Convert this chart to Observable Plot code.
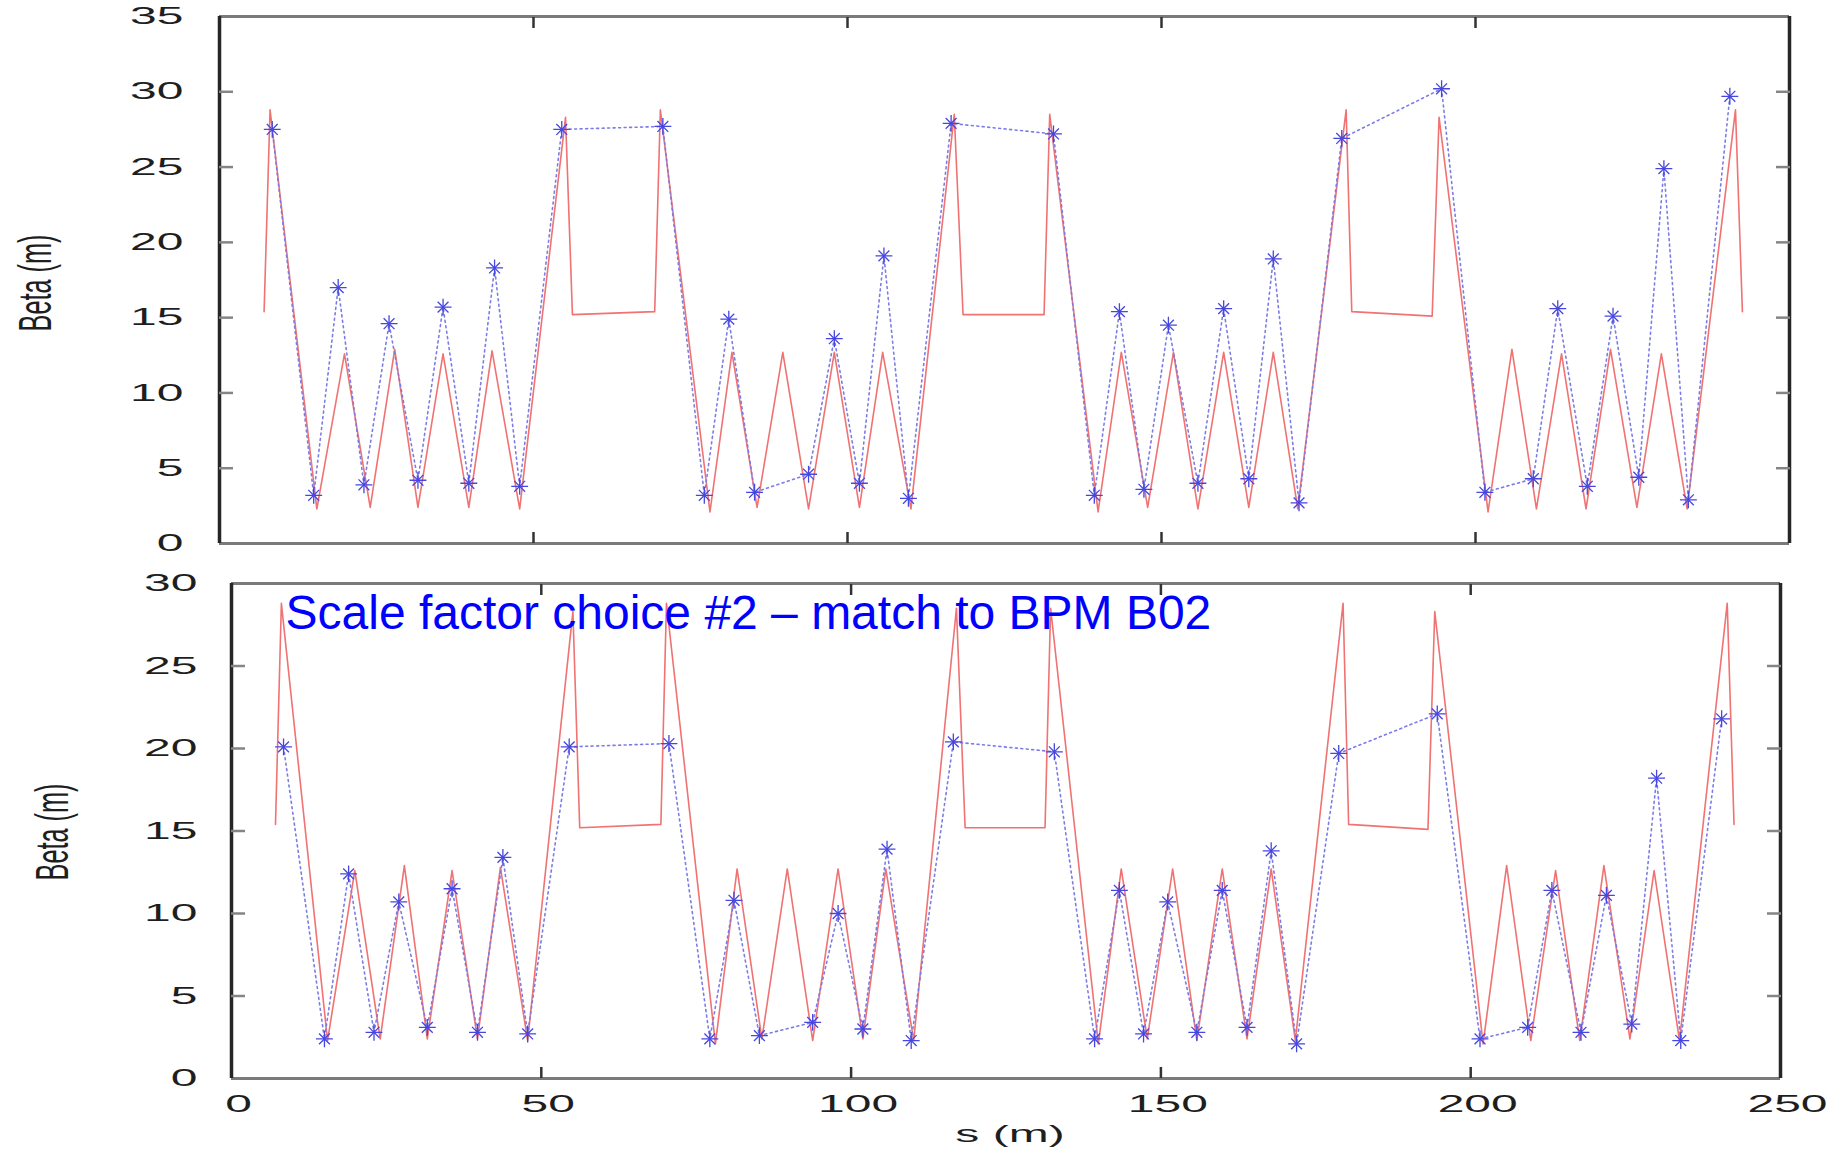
<!DOCTYPE html>
<html><head><meta charset="utf-8">
<script src="https://cdn.jsdelivr.net/npm/d3@7"></script>
<script src="https://cdn.jsdelivr.net/npm/@observablehq/plot@0.6"></script>
<style>
body{margin:0;background:#fff;}
#chart{position:relative;width:1839px;height:1151px;overflow:hidden;background:#fff;}
#chart svg{position:absolute;left:0;}
</style></head><body><div id="chart"></div>
<script>
// Model beta function (red solid line)
const modelS = [7.1, 8.05, 15.5, 19.9, 24.0, 27.9, 31.6, 35.6, 39.7, 43.4, 47.8, 55.1, 56.2, 69.3, 70.2, 78.1, 81.6, 85.6, 89.7, 93.8, 97.9, 101.9, 105.6, 110.1, 117.0, 118.4, 131.3, 132.2, 139.9, 143.6, 147.8, 151.9, 155.8, 159.9, 163.9, 167.8, 171.7, 179.4, 180.3, 193.1, 194.2, 202.0, 205.8, 209.7, 213.7, 217.6, 221.5, 225.7, 229.6, 233.7, 241.4, 242.5];
const modelBeta = [15.4, 28.8, 2.3, 12.6, 2.4, 12.9, 2.4, 12.6, 2.4, 12.8, 2.3, 28.3, 15.2, 15.4, 28.8, 2.1, 12.7, 2.4, 12.7, 2.3, 12.7, 2.4, 12.7, 2.3, 28.5, 15.2, 15.2, 28.5, 2.1, 12.7, 2.4, 12.7, 2.3, 12.7, 2.4, 12.7, 2.3, 28.8, 15.4, 15.1, 28.3, 2.1, 12.9, 2.3, 12.6, 2.3, 12.9, 2.4, 12.6, 2.3, 28.8, 15.4];
// BPM measurements (blue stars, dotted)
const bpmS = [8.4, 15.0, 18.9, 23.0, 27.0, 31.6, 35.6, 39.7, 43.8, 47.8, 54.5, 70.6, 77.2, 81.1, 85.2, 93.8, 97.9, 101.9, 105.8, 109.7, 116.5, 132.8, 139.3, 143.3, 147.2, 151.1, 155.8, 159.9, 163.9, 167.8, 171.9, 178.7, 194.6, 201.5, 209.2, 213.1, 217.8, 221.9, 226.0, 230.0, 233.9, 240.5];
const betaMeasTop = [27.5, 3.2, 17.0, 3.9, 14.6, 4.2, 15.7, 4.0, 18.3, 3.8, 27.5, 27.7, 3.2, 14.9, 3.4, 4.6, 13.6, 4.0, 19.1, 3.0, 27.9, 27.2, 3.2, 15.4, 3.6, 14.5, 4.0, 15.6, 4.3, 18.9, 2.7, 26.9, 30.2, 3.4, 4.3, 15.6, 3.8, 15.1, 4.4, 24.9, 2.9, 29.7];
const betaMeasB02 = [20.1, 2.4, 12.4, 2.8, 10.7, 3.1, 11.5, 2.8, 13.4, 2.7, 20.1, 20.3, 2.4, 10.8, 2.6, 3.4, 10.0, 3.0, 13.9, 2.3, 20.4, 19.8, 2.4, 11.4, 2.7, 10.7, 2.8, 11.4, 3.1, 13.8, 2.1, 19.7, 22.1, 2.4, 3.1, 11.4, 2.8, 11.1, 3.3, 18.2, 2.3, 21.8];
// Ticks and texts
const yTicksTop = [0, 5, 10, 15, 20, 25, 30, 35];
const yTicksBottom = [0, 5, 10, 15, 20, 25, 30];
const xTickLabels = [0, 50, 100, 150, 200, 250];
const xTickMarks = [50, 100, 150, 200];
const xDomain = [0, 250];
const yLabel = "Beta (m)";
const xLabel = "s (m)";
const annotation = "Scale factor choice #2 \u2013 match to BPM B02";

const model = modelS.map((s, i) => ({s, beta: modelBeta[i]}));
const measTop = bpmS.map((s, i) => ({s, beta: betaMeasTop[i]}));
const measB02 = bpmS.map((s, i) => ({s, beta: betaMeasB02[i]}));

const FONT = "Liberation Sans, Arial, Helvetica, sans-serif";
const TXT = "#1e1e1e";

function panel(o) {
  const yMax = o.yTicks[o.yTicks.length - 1];
  const inner = o.yTicks.slice(1, -1);
  const marks = [
    Plot.line(model, {x: "s", y: "beta", stroke: "#f07272", strokeWidth: 1.6}),
    Plot.line(o.meas, {x: "s", y: "beta", stroke: "#7c7ce6", strokeWidth: 1.6, strokeDasharray: "2,3.5"}),
    Plot.dot(o.meas, {x: "s", y: "beta", symbol: "plus", r: 5.5, stroke: "#4646e0", strokeWidth: 1.3}),
    Plot.dot(o.meas, {x: "s", y: "beta", symbol: "times", r: 5, stroke: "#4646e0", strokeWidth: 1.3}),
    // frame
    Plot.ruleY([0, yMax], {stroke: "#7a7a7a", strokeWidth: 3}),
    Plot.ruleX(xDomain, {stroke: "#262626", strokeWidth: 3.5}),
    // inward ticks
    Plot.axisY(inner, {anchor: "left", tickSize: -14, tickFormat: () => "", stroke: "#858585", strokeWidth: 2.5, label: null}),
    Plot.axisY(inner, {anchor: "right", tickSize: -14, tickFormat: () => "", stroke: "#858585", strokeWidth: 2.5, label: null}),
    Plot.axisX(xTickMarks, {anchor: "bottom", tickSize: -11, tickFormat: () => "", stroke: "#333", strokeWidth: 2.5, label: null}),
    Plot.axisX(xTickMarks, {anchor: "top", tickSize: -11, tickFormat: () => "", stroke: "#333", strokeWidth: 2.5, label: null}),
    // y tick labels
    Plot.axisY(o.yTicks, {anchor: "left", tickSize: 0, tickPadding: o.yPad, fontSize: 24, fill: TXT, label: null}),
    // y axis title
    Plot.text([yLabel], {frameAnchor: "left", textAnchor: "middle", dx: o.ylDx, dy: o.ylDy, rotate: -90, fontSize: 46, fill: TXT})
  ];
  if (o.bottomLabels) {
    marks.push(Plot.axisX(xTickLabels, {anchor: "bottom", tickSize: 0, tickPadding: 16, dx: 7, fontSize: 24, fill: TXT, label: null}));
    marks.push(Plot.text([xLabel], {frameAnchor: "bottom", textAnchor: "middle", dx: 4, dy: 63, fontSize: 24, fill: TXT}));
  }
  if (o.annotation) {
    marks.push(Plot.text([o.annotation], {frameAnchor: "top-left", dx: 54, dy: 11, textAnchor: "start", lineAnchor: "top", fontSize: 48, fill: "#0000ff"}));
  }
  const svg = Plot.plot({
    width: 1839, height: o.height,
    marginLeft: o.ml, marginRight: o.mr, marginTop: o.mt, marginBottom: o.mb,
    x: {domain: xDomain, axis: null},
    y: {domain: [0, yMax], axis: null},
    style: {fontFamily: FONT, background: "transparent", overflow: "visible"},
    marks
  });
  svg.style.top = o.top + "px";
  stretch(svg, 'g[aria-label="y-axis tick label"] text', 2.0, 1);
  stretch(svg, 'g[aria-label="x-axis tick label"] text', 2.0, 1);
  stretch(svg, "text", 2.0, 1, xLabel);
  stretch(svg, "text", 0.55, 1, yLabel);
  return svg;
}

function stretch(svg, sel, sx, sy, content) {
  d3.select(svg).selectAll(sel)
    .filter(function() { return content === undefined || this.textContent === content; })
    .each(function() {
      const t = d3.select(this);
      let tr = t.attr("transform");
      if (!tr) {
        const x = +t.attr("x") || 0, y = +t.attr("y") || 0;
        tr = `translate(${x},${y})`;
        t.attr("x", null).attr("y", null);
      }
      t.attr("transform", `${tr} scale(${sx},${sy})`);
    });
}

const chart = document.getElementById("chart");
chart.appendChild(panel({
  top: 0, height: 560, ml: 219, mr: 50, mt: 16, mb: 17,
  yTicks: yTicksTop, meas: measTop, yPad: 36, ylDx: -183, ylDy: 3,
  bottomLabels: false
}));
chart.appendChild(panel({
  top: 560, height: 591, ml: 231, mr: 59, mt: 23, mb: 73,
  yTicks: yTicksBottom, meas: measB02, yPad: 34, ylDx: -178, ylDy: 1,
  bottomLabels: true, annotation
}));
</script></body></html>
